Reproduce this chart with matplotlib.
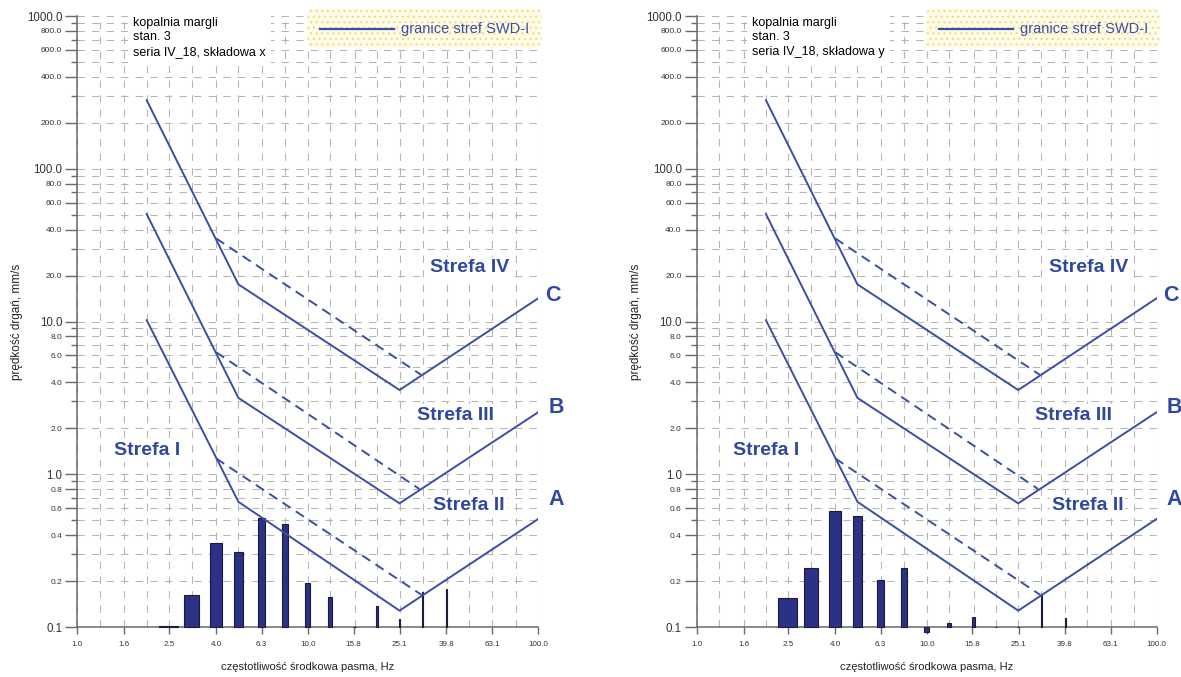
import numpy as np
import matplotlib
matplotlib.use('Agg')
import matplotlib.pyplot as plt
from matplotlib.patches import FancyBboxPatch
from matplotlib.lines import Line2D
from matplotlib.ticker import FixedLocator, NullFormatter

plt.rcParams['font.family'] = ['Liberation Sans', 'DejaVu Sans']
plt.rcParams['hatch.linewidth'] = 0.8

# ---------------- data ----------------
band_freqs = [2.5, 3.15, 4.0, 5.0, 6.3, 8.0, 10.0, 12.5, 16.0, 20.0, 25.0, 31.5, 40.0]
vel_x = [0.102, 0.162, 0.356, 0.310, 0.515, 0.472, 0.195, 0.158, 0.1005, 0.138, 0.113, 0.169, 0.178]
vel_y = [0.1555, 0.242, 0.574, 0.532, 0.202, 0.242, 0.093, 0.106, 0.117, 0.1, 0.1, 0.162, 0.114]

limit_freqs = [2.0, 5.0, 25.0, 100.0]
limit_A = [10.2, 0.66, 0.128, 0.51]
limit_B = [50.5, 3.16, 0.645, 2.55]
limit_C = [281.0, 17.5, 3.56, 14.2]

dash_A_f = [4.0, 31.2]
dash_A_v = [1.27, 0.162]
dash_B_f = [4.0, 30.5]
dash_B_v = [6.3, 0.80]
dash_C_f = [4.0, 31.0]
dash_C_v = [35.0, 4.48]

grid_freqs = [1.0, 1.25, 1.6, 2.0, 2.5, 3.15, 4.0, 5.0, 6.3, 8.0, 10.0, 12.5, 16.0,
              20.0, 25.0, 31.5, 40.0, 50.0, 63.0, 80.0, 100.0]
xtick_values = [1.0, 1.6, 2.5, 4.0, 6.3, 10.0, 15.8, 25.1, 39.8, 63.1, 100.0]
xtick_labels = ['1.0', '1.6', '2.5', '4.0', '6.3', '10.0', '15.8', '25.1', '39.8', '63.1', '100.0']
ytick_values = [0.1, 0.2, 0.4, 0.6, 0.8, 1, 2, 4, 6, 8, 10, 20, 40, 60, 80,
                100, 200, 400, 600, 800, 1000]
ytick_labels = ['0.1', '0.2', '0.4', '0.6', '0.8', '1.0', '2.0', '4.0', '6.0', '8.0',
                '10.0', '20.0', '40.0', '60.0', '80.0', '100.0', '200.0', '400.0',
                '600.0', '800.0', '1000.0']
ygrid_values = [m * 10.0 ** e for e in range(-1, 3) for m in range(1, 10)] + [1000.0]

titles = ['kopalnia margli\nstan. 3\nseria IV_18, składowa x',
          'kopalnia margli\nstan. 3\nseria IV_18, składowa y']
legend_label = 'granice stref SWD-I'
zone_labels = ['Strefa I', 'Strefa II', 'Strefa III', 'Strefa IV']
zone_pos = [(2.0, 1.42), (50.0, 0.62), (43.6, 2.44), (50.5, 22.4)]
curve_labels = ['A', 'B', 'C']
curve_label_y = [0.68, 2.75, 14.9]

# ---------------- style ----------------
LINE_C = '#3a4ea3'
TEXT_C = '#2f48a0'
BAR_FC = '#2b3285'
BAR_EC = '#1c1c3a'
GRID_C = '#b4b4b4'
SPINE_C = '#6a6a6a'
BAR_W = 0.47
CURVE_LABEL_X = [1.022, 1.022, 1.015]

W, H = 1181, 677
fig = plt.figure(figsize=(W / 100, H / 100), dpi=100)
axes_rects = [[77.3 / W, 50 / H, 461 / W, 611 / H],
              [696.7 / W, 50 / H, 460 / W, 611 / H]]


def draw_panel(ax, vel, title):
    ax.set_xscale('log')
    ax.set_yscale('log')
    ax.set_xlim(1.0, 100.0)
    ax.set_ylim(0.1, 1000.0)

    # grid
    for f in grid_freqs:
        ax.axvline(f, color=GRID_C, lw=0.75, ls=(0, (7, 7)), zorder=1)
    for v in ygrid_values:
        ax.axhline(v, color=GRID_C, lw=0.75, ls=(0, (7, 7)), zorder=1)

    # bars
    heights = [v - 0.1 for v in vel]
    ax.bar(band_freqs, heights, bottom=0.1, width=BAR_W, color=BAR_FC,
           edgecolor=BAR_EC, lw=0.8, zorder=3, clip_on=False)

    # limit lines
    for lv in (limit_A, limit_B, limit_C):
        ax.plot(limit_freqs, lv, color=LINE_C, lw=1.4, zorder=4,
                solid_joinstyle='miter')
    for fx, fv in ((dash_A_f, dash_A_v), (dash_B_f, dash_B_v), (dash_C_f, dash_C_v)):
        ax.plot(fx, fv, color=LINE_C, lw=1.4, ls=(0, (5, 3.2)), zorder=4)

    # zone labels
    for lbl, (zx, zy) in zip(zone_labels, zone_pos):
        ax.text(zx, zy, lbl, color=TEXT_C, fontsize=14, fontweight='bold',
                ha='center', va='center', zorder=6,
                bbox=dict(facecolor='white', edgecolor='none', pad=1.5))
    for lbl, cy, cx in zip(curve_labels, curve_label_y, CURVE_LABEL_X):
        ax.text(cx, np.log10(cy / 0.1) / 4.0, lbl, transform=ax.transAxes,
                color=TEXT_C, fontsize=15.5, fontweight='bold', ha='left',
                va='center', clip_on=False)

    # title text
    ax.text(0.121, 0.999, title, transform=ax.transAxes, fontsize=9,
            ha='left', va='top', linespacing=1.3, zorder=6,
            bbox=dict(facecolor='white', edgecolor='none', pad=4))

    # legend box
    box = FancyBboxPatch((0.499, 0.9476), 0.508, 0.065,
                         boxstyle='round,pad=0,rounding_size=0.012',
                         transform=ax.transAxes, facecolor='#fffbe8',
                         edgecolor='#eadc7a', lw=0, hatch='...', zorder=5,
                         clip_on=False)
    ax.add_patch(box)
    ax.add_line(Line2D([0.527, 0.687], [0.9787, 0.9787], transform=ax.transAxes,
                       color=LINE_C, lw=1.6, zorder=6, clip_on=False))
    ax.text(0.703, 0.9787, legend_label, transform=ax.transAxes, color=LINE_C,
            fontsize=10.5, ha='left', va='center', zorder=6, clip_on=False)

    # axes and ticks
    for s in ('top', 'right'):
        ax.spines[s].set_visible(False)
    for s in ('left', 'bottom'):
        ax.spines[s].set_color(SPINE_C)
        ax.spines[s].set_linewidth(1.1)
        ax.spines[s].set_zorder(2)

    ax.xaxis.set_major_locator(FixedLocator(xtick_values))
    ax.xaxis.set_minor_locator(FixedLocator([]))
    ax.set_xticklabels(xtick_labels)
    ax.tick_params(axis='x', which='major', length=5, width=1.0, color=SPINE_C,
                   labelsize=5.8, pad=5, labelcolor='#333333')

    ax.yaxis.set_major_locator(FixedLocator(ytick_values))
    ax.yaxis.set_minor_locator(FixedLocator([v for v in ygrid_values
                                             if all(abs(v - t) > 1e-9 for t in ytick_values)]))
    ax.yaxis.set_minor_formatter(NullFormatter())
    ax.set_yticklabels(ytick_labels)
    ax.tick_params(axis='y', which='major', length=8.6, width=1.0, color=SPINE_C,
                   pad=2.2, labelsize=6, labelcolor='#333333')
    ax.tick_params(axis='y', which='minor', length=4.3, width=1.0, color=SPINE_C)
    for lab in ax.get_yticklabels():
        if lab.get_text() in ('0.1', '1.0', '10.0', '100.0', '1000.0'):
            lab.set_fontsize(8.3)

    ax.set_ylabel('prędkość drgań, mm/s', fontsize=8.5, color='#222222')
    ax.yaxis.set_label_coords(-0.118, 0.5)
    ax.set_xlabel('częstotliwość środkowa pasma, Hz', fontsize=8, color='#222222')
    ax.xaxis.set_label_coords(0.5, -0.058)
    ax.set_facecolor('white')


for rect, vel, title in zip(axes_rects, (vel_x, vel_y), titles):
    ax = fig.add_axes(rect)
    draw_panel(ax, vel, title)

fig.savefig('out.png', dpi=100)
